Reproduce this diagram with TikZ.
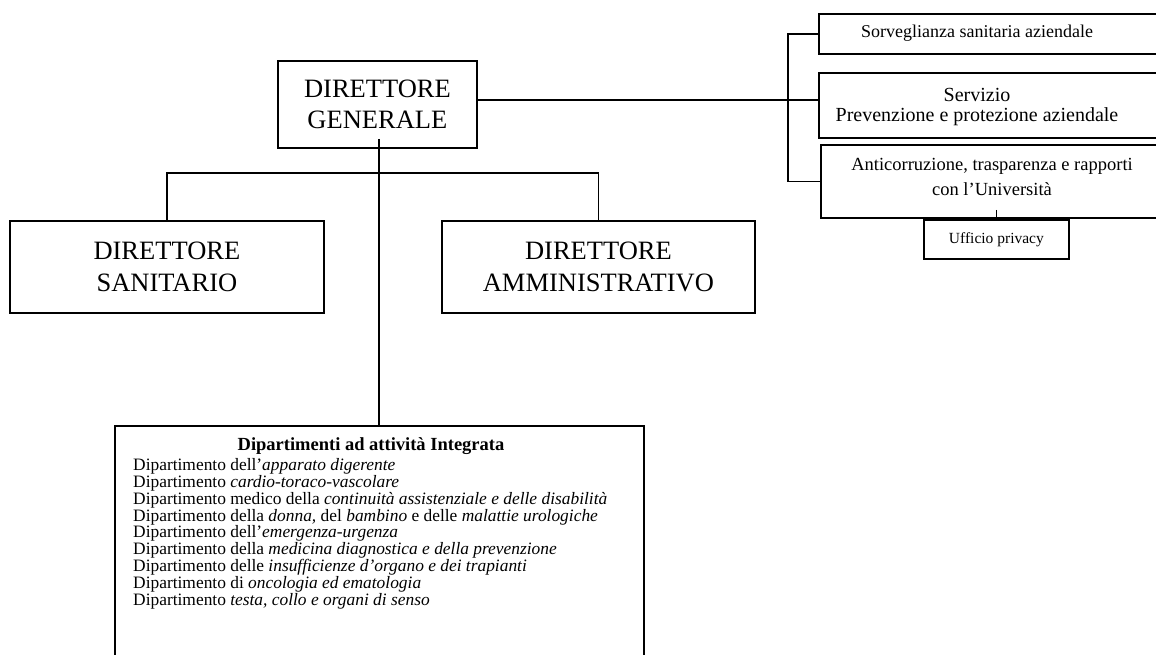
\documentclass[tikz,border=0pt]{standalone}
\usepackage{fontspec}
\setmainfont{Liberation Serif}
\tikzstyle{org chart}=[
    x=1pt, y=-1pt,
    box/.style={draw, line width=1.8pt, rectangle, align=center, inner sep=0pt},
    link/.style={line width=1.6pt},
    head label/.style={font={\fontsize{26.5}{31.5}\selectfont}, align=center},
    unit label/.style={font={\fontsize{20}{20}\selectfont}, align=center},
    list label/.style={font={\fontsize{17.4}{16.8}\selectfont}, align=left, inner sep=0pt}
]
\newcommand{\orgbox}[6][]{
    \node[box, anchor=north west, minimum width=#4, minimum height=#5, #1] (#2) at (#3) {#6};
}

\begin{document}
\begin{tikzpicture}[org chart]
    \useasboundingbox (0,0) rectangle (1156,655);
    \orgbox[head label]{dg}{277,60}{199pt}{87pt}{DIRETTORE\\GENERALE}
    \orgbox[head label]{ds}{9,220}{314pt}{92pt}{DIRETTORE\\SANITARIO}
    \orgbox[head label]{da}{441,220}{313pt}{92pt}{DIRETTORE\\AMMINISTRATIVO}
    \orgbox{dip}{114,425}{529pt}{260pt}{}
    \orgbox{sorv}{818,13}{352pt}{40pt}{}
    \orgbox{serv}{818,72}{352pt}{65pt}{}
    \orgbox{anti}{820,144}{350pt}{73pt}{}
    \orgbox[font={\fontsize{15.5}{16}\selectfont}]{uff}{923,219}{145pt}{39pt}{Ufficio privacy}

    \node[unit label, font={\fontsize{18}{19}\selectfont}] (sorv-t) at (977,33) {Sorveglianza sanitaria aziendale};
    \node[unit label] (serv-t) at (977,107.5) {Servizio\\Prevenzione e protezione aziendale};
    \node[unit label, font={\fontsize{18.5}{25}\selectfont}] (anti-t) at (992,177) {Anticorruzione, trasparenza e rapporti\\con l'Università};

    \node[list label, font={\fontsize{18.5}{17}\selectfont\bfseries}, anchor=base] (dip-t) at (371,450) {Dipartimenti ad attività Integrata};
    \node[list label, anchor=north west] (dip-l) at (133,458.5) {%
        Dipartimento dell'\textit{apparato digerente}\\
        Dipartimento \textit{cardio-toraco-vascolare}\\
        Dipartimento medico della \textit{continuità assistenziale e delle disabilità}\\
        Dipartimento della \textit{donna,} del \textit{bambino} e delle \textit{malattie urologiche}\\
        Dipartimento dell'\textit{emergenza-urgenza}\\
        Dipartimento della \textit{medicina diagnostica e della prevenzione}\\
        Dipartimento delle \textit{insufficienze d'organo e dei trapianti}\\
        Dipartimento di \textit{oncologia ed ematologia}\\
        Dipartimento \textit{testa, collo e organi di senso}};

    \draw[link] ([yshift=4.5pt]dg.east) -- ([yshift=4.5pt]dg.east -| serv.west);
    \draw[link] (sorv.west) -- ++(-30,0) |- (anti.west);
    \draw[link] (ds.north) -- ++(0,-47) -| (da.north);
    \draw[link] ([xshift=1.5pt,yshift=10pt]dg.south) -- ([xshift=1.5pt]dg.south |- dip.north);
    \draw[link] ([yshift=9pt]uff.north |- anti.south) -- (uff.north);
\end{tikzpicture}
\end{document}
